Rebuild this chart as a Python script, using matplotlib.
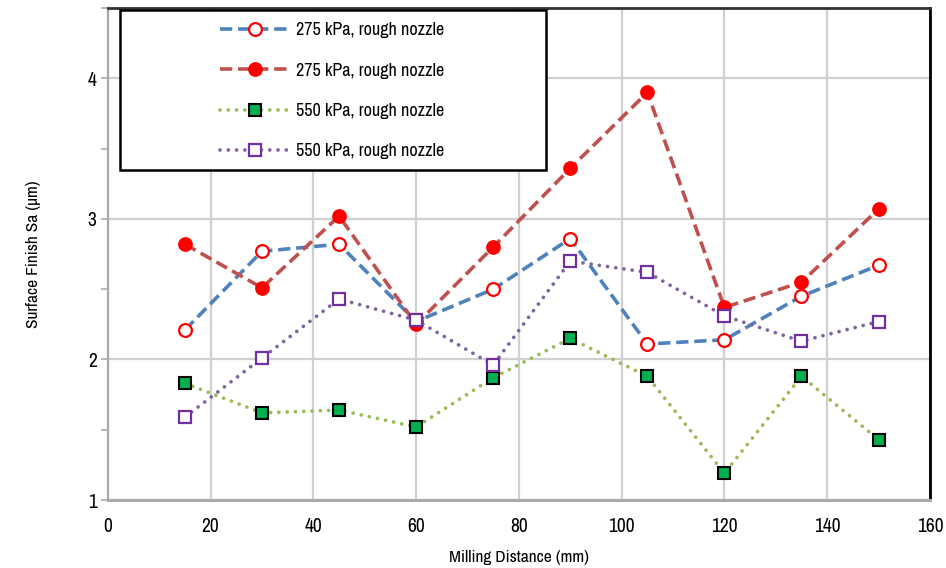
import matplotlib
matplotlib.use("Agg")
import matplotlib.pyplot as plt
from matplotlib.ticker import MultipleLocator
from matplotlib.patches import Rectangle

plt.rcParams['font.family'] = ['Archivo Narrow', 'Liberation Sans', 'DejaVu Sans']

distance = [15, 30, 45, 60, 75, 90, 105, 120, 135, 150]
labels = ["275 kPa, rough nozzle", "275 kPa, rough nozzle",
          "550 kPa, rough nozzle", "550 kPa, rough nozzle"]
sa_275_open = [2.21, 2.77, 2.82, 2.27, 2.50, 2.86, 2.11, 2.14, 2.45, 2.67]
sa_275_filled = [2.82, 2.51, 3.02, 2.25, 2.80, 3.36, 3.90, 2.37, 2.55, 3.07]
sa_550_filled = [1.83, 1.62, 1.64, 1.52, 1.87, 2.15, 1.88, 1.19, 1.88, 1.43]
sa_550_open = [1.59, 2.01, 2.43, 2.28, 1.96, 2.70, 2.62, 2.31, 2.13, 2.27]

fig = plt.figure(figsize=(9.46, 5.68), dpi=100)
ax = fig.add_axes([0.114, 0.1197, 0.869, 0.866])

dash = (0, (3.4, 1.6))
dot = (0, (0.01, 2.2))

ax.plot(distance, sa_275_open, linestyle=dash, color='#4F81BD', lw=2.6,
        marker='o', ms=9.2, mfc='white', mec='#FF0000', mew=1.6,
        label=labels[0], zorder=3)
ax.plot(distance, sa_275_filled, linestyle=dash, color='#C0504D', lw=2.6,
        marker='o', ms=9.6, mfc='#FF0000', mec='#FF0000', mew=1,
        label=labels[1], zorder=3)
ax.plot(distance, sa_550_filled, linestyle=dot, color='#9BBB59', lw=2.7,
        dash_capstyle='round', marker='s', ms=8.6, mfc='#00B050', mec='black',
        mew=1.5, label=labels[2], zorder=3)
ax.plot(distance, sa_550_open, linestyle=dot, color='#8064A2', lw=2.7,
        dash_capstyle='round', marker='s', ms=8.6, mfc='white', mec='#7030A0',
        mew=1.6, label=labels[3], zorder=3)

ax.set_xlim(0, 160)
ax.set_ylim(1, 4.5)
ax.xaxis.set_major_locator(MultipleLocator(20))
ax.yaxis.set_major_locator(MultipleLocator(1))
ax.yaxis.set_minor_locator(MultipleLocator(0.5))

ax.grid(True, which='major', color='#D0D0D0', lw=1.6, zorder=0)
ax.set_axisbelow(True)

for side in ('left', 'bottom'):
    ax.spines[side].set_color('#ABABAB')
ax.spines['left'].set_linewidth(1.6)
ax.spines['bottom'].set_linewidth(2.2)
ax.spines['top'].set_color('#333333')
ax.spines['top'].set_linewidth(2)
ax.spines['right'].set_color('black')
ax.spines['right'].set_linewidth(2)

ax.tick_params(axis='x', length=0, pad=12, labelsize=14)
ax.tick_params(axis='y', which='both', length=5, width=1.2, color='#ABABAB',
               pad=3, labelsize=14)

ax.set_xlabel("Milling Distance (mm)", fontsize=12.5, labelpad=10)
ax.set_ylabel("Surface Finish Sa (µm)", fontsize=12.5, labelpad=34)

# legend box drawn separately so the entries sit centred inside a wide frame
ax.add_patch(Rectangle((0.0146, 0.671), 0.518, 0.325, transform=ax.transAxes,
                       facecolor='white', edgecolor='black', lw=1.8, zorder=5))
leg = ax.legend(loc='center left', bbox_to_anchor=(0.1363, 0.832),
                fontsize=13, frameon=False, handlelength=3.9,
                labelspacing=1.35, borderpad=0, handletextpad=0.3,
                borderaxespad=0)
leg.set_zorder(6)

fig.savefig("out.png", dpi=100)
